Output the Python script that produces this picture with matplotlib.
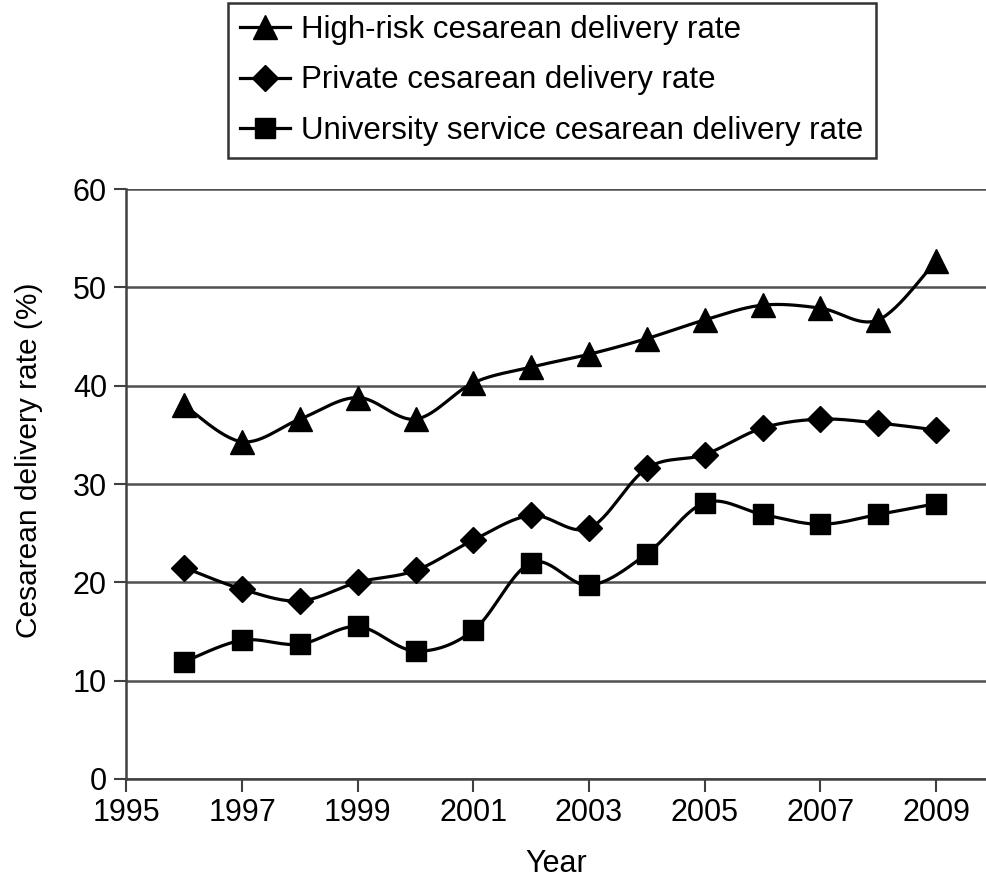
import numpy as np
import matplotlib
matplotlib.use("Agg")
import matplotlib.pyplot as plt
from matplotlib.lines import Line2D

plt.rcParams['font.family'] = ['Liberation Sans', 'DejaVu Sans']

years = [1996, 1997, 1998, 1999, 2000, 2001, 2002, 2003, 2004, 2005, 2006, 2007, 2008, 2009]
high_risk = [38.0, 34.3, 36.6, 38.8, 36.6, 40.3, 41.9, 43.2, 44.8, 46.7, 48.2, 47.9, 46.7, 52.7]
private = [21.5, 19.3, 18.1, 20.0, 21.2, 24.3, 26.8, 25.5, 31.6, 33.0, 35.7, 36.6, 36.2, 35.5]
university = [11.9, 14.1, 13.7, 15.5, 13.0, 15.1, 22.0, 19.7, 22.9, 28.1, 26.9, 25.9, 26.9, 28.0]
labels = ["High-risk cesarean delivery rate",
          "Private cesarean delivery rate",
          "University service cesarean delivery rate"]
markers = ["^", "D", "s"]
msizes = [17, 13, 14]
xticks = [1995, 1997, 1999, 2001, 2003, 2005, 2007, 2009]
yticks = [0, 10, 20, 30, 40, 50, 60]


def smooth(x, y, n=30):
    """Catmull-Rom spline through the data points (display smoothing)."""
    x = np.asarray(x, float)
    y = np.asarray(y, float)
    px = np.concatenate([[x[0]], x, [x[-1]]])
    py = np.concatenate([[y[0]], y, [y[-1]]])
    xs, ys = [], []
    t = np.linspace(0, 1, n)
    for i in range(1, len(px) - 2):
        p0, p1, p2, p3 = [np.array([px[j], py[j]]) for j in (i - 1, i, i + 1, i + 2)]
        c1 = p1 + (p2 - p0) / 6.0
        c2 = p2 - (p3 - p1) / 6.0
        pts = ((1 - t)[:, None] ** 3 * p1 + 3 * ((1 - t) ** 2 * t)[:, None] * c1
               + 3 * ((1 - t) * t ** 2)[:, None] * c2 + (t ** 3)[:, None] * p2)
        xs.extend(pts[:, 0])
        ys.extend(pts[:, 1])
    return xs, ys


fig = plt.figure(figsize=(9.87, 8.80), dpi=100)
ax = fig.add_axes([0.128, 0.115, 0.872, 0.67])

handles = []
for vals, m, ms, lab in zip([high_risk, private, university], markers, msizes, labels):
    sx, sy = smooth(years, vals)
    ax.plot(sx, sy, color="black", lw=2.3, zorder=3, clip_on=False)
    ax.plot(years, vals, linestyle="none", marker=m, ms=ms, color="black", zorder=4, clip_on=False)
    handles.append(Line2D([], [], color="black", lw=2.3, marker=m, ms=ms * 1.05, label=lab))

ax.set_xlim(1995, 2009.88)
ax.set_ylim(0, 60)
ax.set_xticks(xticks)
ax.set_yticks(yticks)
ax.yaxis.grid(True, color="#505050", lw=1.8)
ax.set_axisbelow(True)
for s in ["top", "right"]:
    ax.spines[s].set_visible(False)
for s in ["left", "bottom"]:
    ax.spines[s].set_color("#404040")
    ax.spines[s].set_linewidth(1.8)
ax.tick_params(axis="both", direction="out", length=9, width=1.5, color="#404040",
               labelsize=22, pad=5)
ax.set_xlabel("Year", fontsize=22, labelpad=15)
ax.set_ylabel("Cesarean delivery rate (%)", fontsize=21.5)
ax.yaxis.set_label_coords(-0.113, 0.54)
ax.yaxis.label.set_va("center")

leg = fig.legend(handles=handles, loc="upper left", bbox_to_anchor=(0.231, 0.997),
                 fontsize=22.5, frameon=True, fancybox=False, edgecolor="black",
                 handlelength=1.6, handletextpad=0.35, borderpad=0.4, labelspacing=0.65,
                 borderaxespad=0)
leg.get_frame().set_linewidth(1.8)

fig.savefig("out.png", dpi=100)
